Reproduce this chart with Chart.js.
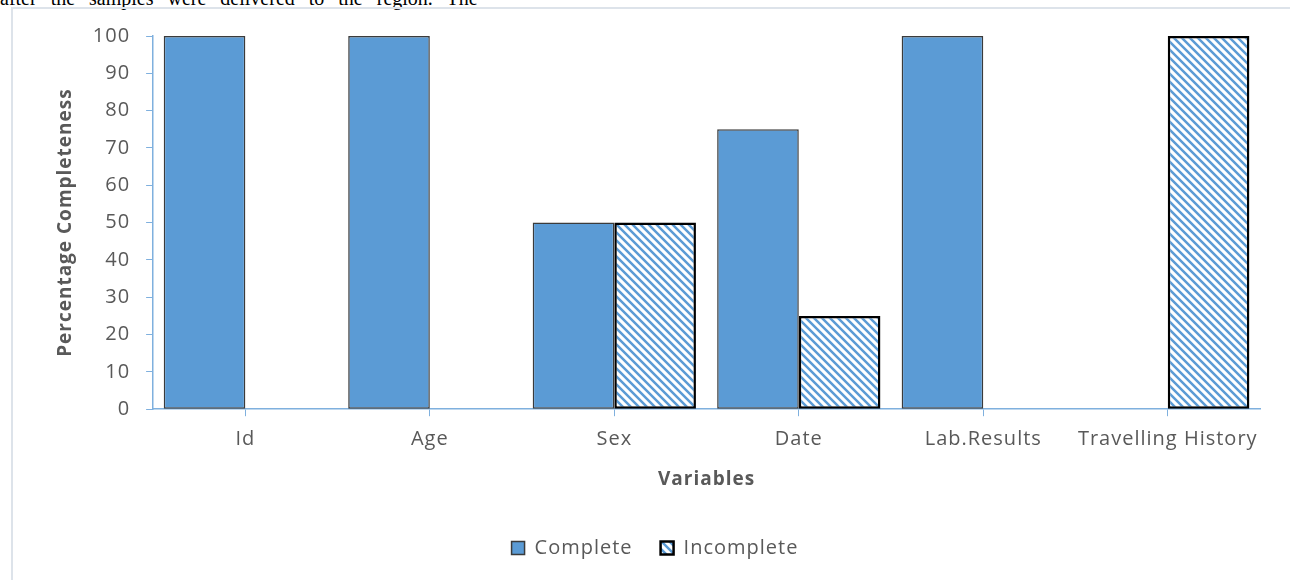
<!DOCTYPE html>
<html>
<head>
<meta charset="utf-8">
<script src="https://cdn.jsdelivr.net/npm/chart.js@4.4.1/dist/chart.umd.min.js"></script>
<style>
  body { margin: 0; background: #fff; width: 1290px; height: 580px; overflow: hidden; position: relative; }
  #texto { position: absolute; left: 0; top: -13px; font: 20px "Liberation Serif", serif; word-spacing: 9px; white-space: nowrap; color: #000; }
  #marco { position: absolute; left: 11px; top: 7px; width: 1300px; height: 600px; border-left: 2px solid #dde3ea; border-top: 2px solid #dde3ea; }
  #contenedor { position: absolute; left: 0; top: 0; width: 1290px; height: 580px; }
</style>
</head>
<body>
<div id="texto">after the samples were delivered to the region. The</div>
<div id="marco"></div>
<div id="contenedor"><canvas id="grafico"></canvas></div>
<script>
    // Datos del gráfico
    const categorias = ['Id', 'Age', 'Sex', 'Date', 'Lab.Results', 'Travelling History'];
    const completo = [100, 100, 50, 75, 100, 0];
    const incompleto = [0, 0, 50, 25, 0, 100];
    const ejeY = { min: 0, max: 100, paso: 10 };

    const azul = '#5B9BD5';
    const ejeColor = '#7FB0DE';
    const textoColor = '#595959';
    const fuente = '"Open Sans", sans-serif';

    // Trama de rayas diagonales para "Incomplete"
    function crearTrama() {
        const c = document.createElement('canvas');
        c.width = 8;
        c.height = 8;
        const g = c.getContext('2d');
        g.fillStyle = '#fff';
        g.fillRect(0, 0, 8, 8);
        g.strokeStyle = azul;
        g.lineWidth = 2.5;
        g.beginPath();
        g.moveTo(-2, -2); g.lineTo(10, 10);
        g.moveTo(-2, 6); g.lineTo(2, 10);
        g.moveTo(6, -2); g.lineTo(10, 2);
        g.stroke();
        return g.createPattern(c, 'repeat');
    }

    // El texto del original es algo más ancho: un poco de espaciado entre letras
    const espaciado = {
        id: 'espaciado',
        beforeUpdate(chart) { chart.ctx.letterSpacing = '1px'; },
        beforeDraw(chart) { chart.ctx.letterSpacing = '1px'; }
    };

    const ctx = document.getElementById('grafico').getContext('2d');
    const trama = crearTrama();

    const grafico = new Chart(ctx, {
      type: 'bar',
      data: {
        labels: categorias,
        datasets: [{
          label: 'Complete',
          data: completo,
          backgroundColor: azul,
          borderColor: '#3b3b3b',
          borderWidth: 1.5,
          borderSkipped: false,
        }, {
          label: 'Incomplete',
          data: incompleto,
          backgroundColor: trama,
          borderColor: '#000',
          borderWidth: 2.5,
          borderSkipped: false,
        }]
      },
      plugins: [espaciado],
      options: {
        responsive: true,
        maintainAspectRatio: false,
        animation: false,
        layout: { padding: { left: 50, right: 30, top: 36, bottom: 12 } },
        datasets: { bar: { categoryPercentage: 0.885, barPercentage: 1.0 } },
        plugins: {
          tooltip: { enabled: false },
          legend: {
            position: 'bottom',
            labels: {
              boxWidth: 13,
              boxHeight: 13,
              padding: 28,
              color: textoColor,
              font: { family: fuente, size: 20 },
            }
          }
        },
        scales: {
          x: {
            grid: { display: true, offset: false, drawOnChartArea: false, drawTicks: true, tickLength: 7, color: ejeColor },
            border: { display: true, color: ejeColor, width: 1.5 },
            ticks: { color: textoColor, padding: 11, maxRotation: 0, autoSkip: false, font: { family: fuente, size: 20 } },
            title: { display: true, text: 'Variables', color: textoColor, padding: { top: 6, bottom: 19 }, font: { family: fuente, size: 19, weight: 'bold' } }
          },
          y: {
            min: ejeY.min,
            max: ejeY.max,
            grid: { display: true, drawOnChartArea: false, drawTicks: true, tickLength: 7, color: ejeColor },
            border: { display: true, color: ejeColor, width: 1.5 },
            ticks: { stepSize: ejeY.paso, color: textoColor, padding: 16, font: { family: fuente, size: 20 } },
            title: { display: true, text: 'Percentage Completeness', color: textoColor, padding: { top: 4, bottom: 0 }, font: { family: fuente, size: 19, weight: 'bold' } }
          }
        }
      }
    });
</script>
</body>
</html>
